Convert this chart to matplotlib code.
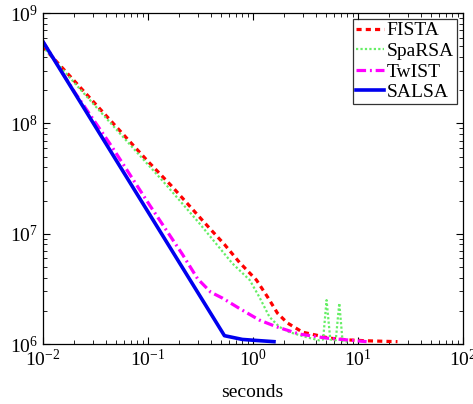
import matplotlib
matplotlib.use('Agg')
import matplotlib.pyplot as plt

plt.rcParams['font.family'] = ['Liberation Serif', 'DejaVu Serif']
plt.rcParams['mathtext.fontset'] = 'custom'
plt.rcParams['mathtext.rm'] = 'Liberation Serif'
plt.rcParams['mathtext.it'] = 'Liberation Serif:italic'
plt.rcParams['mathtext.bf'] = 'Liberation Serif:bold'

# FISTA
fista_t = [0.01, 0.02, 0.05, 0.1, 0.17, 0.39, 0.54, 0.75, 1.09, 1.39, 1.73, 2.15, 3.0, 4.1, 5.4, 8.0, 12.0, 24.0]
fista_f = [5.0e8, 2.44e8, 9.4e7, 4.57e7, 2.7e7, 1.12e7, 8.0e6, 5.5e6, 3.8e6, 2.67e6, 1.9e6, 1.55e6,
           1.28e6, 1.2e6, 1.13e6, 1.09e6, 1.07e6, 1.05e6]

# SpaRSA
sparsa_t = [0.01, 0.02, 0.05, 0.14, 0.31, 0.64, 0.94, 1.16, 1.45, 1.8, 2.25, 3.3, 4.3, 4.7,
            5.07, 5.5, 6.2, 6.7, 7.2, 8.0]
sparsa_f = [5.0e8, 2.35e8, 8.9e7, 3.0e7, 1.25e7, 5.4e6, 3.8e6, 2.67e6, 1.76e6, 1.43e6, 1.28e6,
            1.15e6, 1.08e6, 1.1e6, 2.5e6, 1.1e6, 1.08e6, 2.35e6, 1.06e6, 1.05e6]

# TwIST
twist_t = [0.01, 0.02, 0.045, 0.1046, 0.215, 0.3, 0.4, 0.52, 0.75, 1.16, 1.7, 2.8, 5.1, 7.9, 12.2]
twist_f = [5.6e8, 1.95e8, 6.3e7, 1.82e7, 6.5e6, 3.9e6, 2.95e6, 2.6e6, 2.1e6, 1.65e6, 1.43e6, 1.23e6,
           1.13e6, 1.09e6, 1.05e6]

# SALSA
salsa_t = [0.01, 0.54, 0.8, 1.2, 1.6]
salsa_f = [5.6e8, 1.19e6, 1.1e6, 1.07e6, 1.05e6]

fig = plt.figure(figsize=(4.73, 4.04), dpi=100)
ax = fig.add_axes([0.0899, 0.1485, 0.888, 0.819])

ax.plot(fista_t, fista_f, color='#ff0000', lw=2.3, dashes=(1.6, 1.3), label='FISTA')
ax.plot(sparsa_t, sparsa_f, color='#66ee66', lw=1.6, linestyle=(0, (1, 1)), label='SpaRSA')
ax.plot(twist_t, twist_f, color='#ff00ff', lw=2.3, dashes=(3.0, 1.2, 0.6, 1.2), label='TwIST')
ax.plot(salsa_t, salsa_f, color='#0000ee', lw=2.6, label='SALSA')

ax.set_xscale('log')
ax.set_yscale('log')
ax.set_xlim(1e-2, 1e2)
ax.set_ylim(1e6, 1e9)

ax.tick_params(which='both', direction='in', top=True, right=True, labelsize=14)
ax.tick_params(which='major', length=5, width=0.8)
ax.tick_params(which='minor', length=3, width=0.6)
for s in ax.spines.values():
    s.set_linewidth(0.9)

ax.set_xlabel('seconds', fontsize=14, labelpad=10)

leg = ax.legend(loc='upper right', fontsize=14, frameon=True, fancybox=False, edgecolor='black',
                handlelength=1.4, handletextpad=0.15, borderpad=0.15, labelspacing=0.15,
                borderaxespad=0.3)
leg.get_frame().set_linewidth(0.9)

fig.savefig('out.png', dpi=100)
